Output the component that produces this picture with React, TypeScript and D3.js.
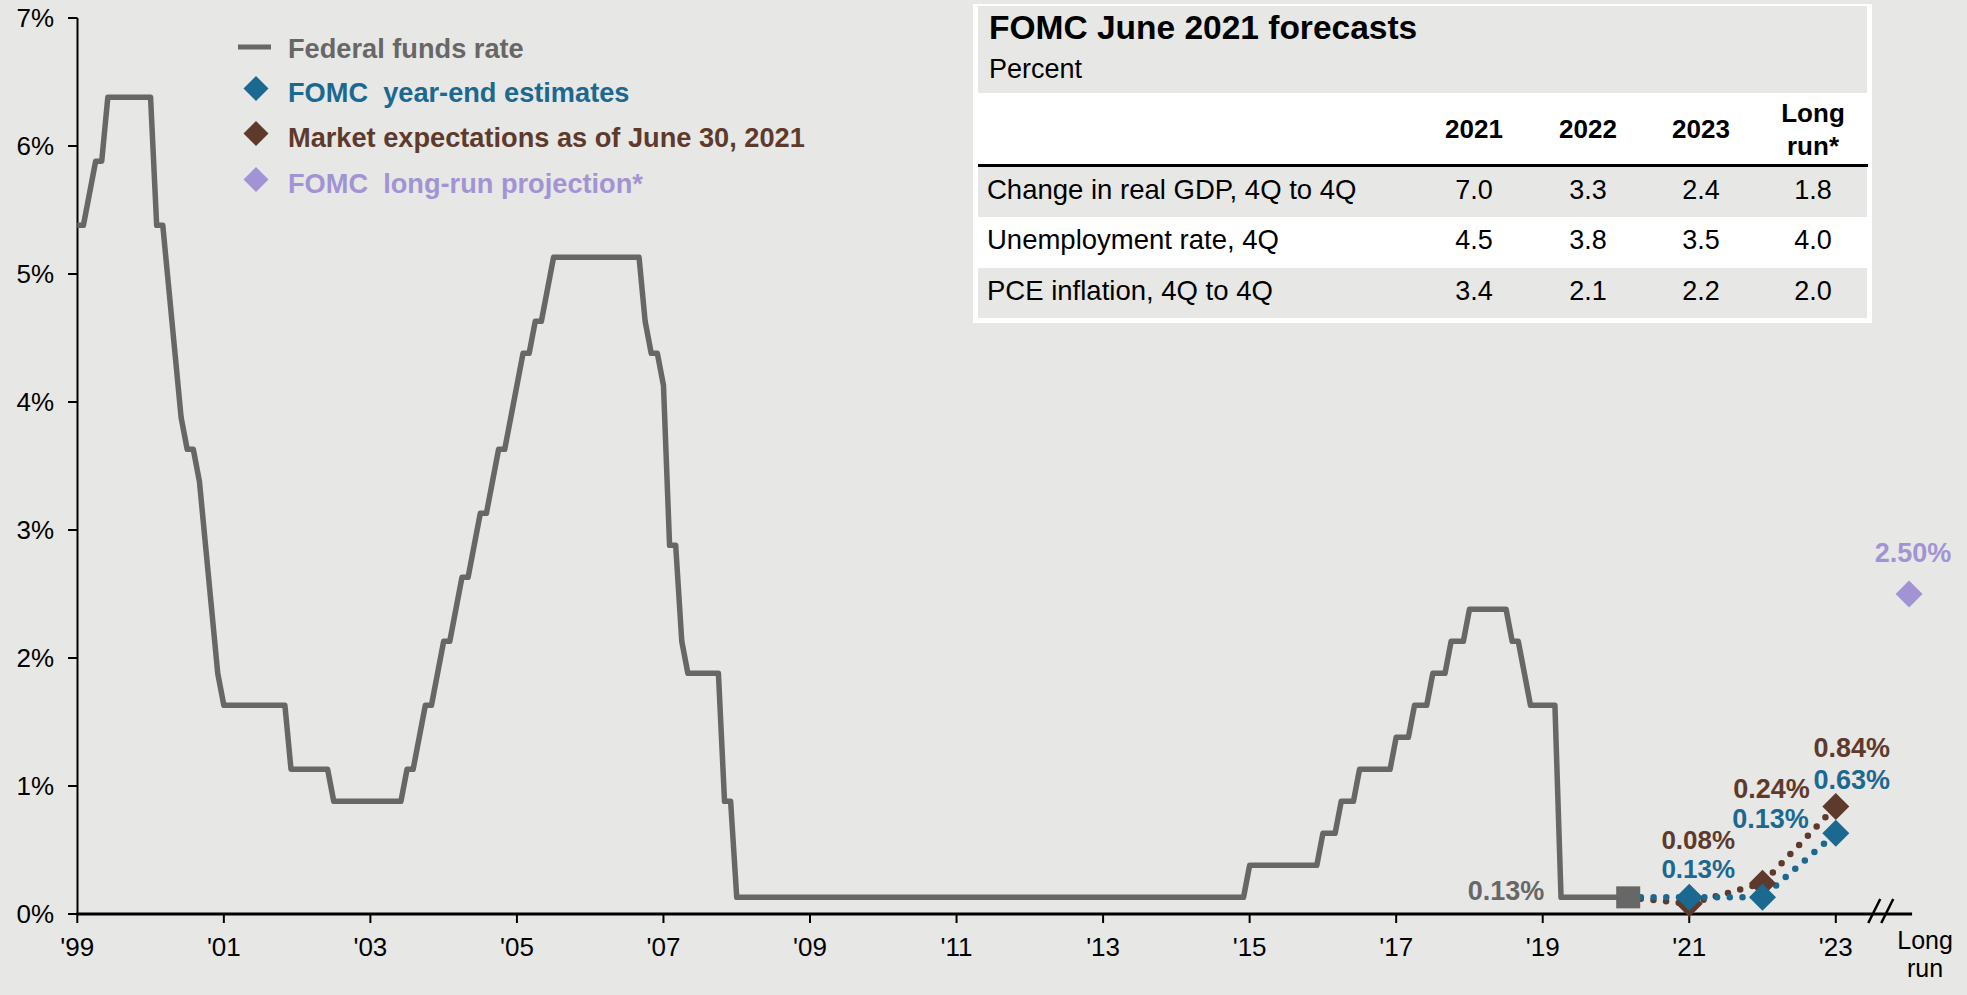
import React from 'react';
import * as d3 from 'd3';

const W = 1967;
const H = 995;

// Federal funds rate, monthly, first point = year-end '99 tick: [rate %, number of months]
const fedFundsRuns: [number, number][] = [
  [5.38, 2], [5.63, 1], [5.88, 2], [6.38, 8], [5.38, 2], [4.88, 1], [4.38, 1], [3.88, 1],
  [3.63, 2], [3.38, 1], [2.88, 1], [2.38, 1], [1.88, 1], [1.63, 11], [1.13, 7], [0.88, 12],
  [1.13, 2], [1.38, 1], [1.63, 2], [1.88, 1], [2.13, 2], [2.38, 1], [2.63, 2], [2.88, 1],
  [3.13, 2], [3.38, 1], [3.63, 2], [3.88, 1], [4.13, 1], [4.38, 2], [4.63, 2], [4.88, 1],
  [5.13, 15], [4.63, 1], [4.38, 2], [4.13, 1], [2.88, 2], [2.13, 1], [1.88, 6], [0.88, 2],
  [0.13, 84], [0.38, 12], [0.63, 3], [0.88, 3], [1.13, 6], [1.38, 3], [1.63, 3], [1.88, 3],
  [2.13, 3], [2.38, 7], [2.13, 2], [1.88, 1], [1.63, 5], [0.13, 12],
];

const xTickLabels = ["'99", "'01", "'03", "'05", "'07", "'09", "'11", "'13", "'15", "'17", "'19", "'21", "'23"];
const yTickValues = [0, 1, 2, 3, 4, 5, 6, 7];

const forecastMonths = [264, 276, 288]; // year-end 2021, 2022, 2023 (months after the '99 tick)
const fomcEstimates = [0.13, 0.13, 0.63];
const marketExpectations = [0.08, 0.24, 0.84];
const longRunMonth = 300;
const longRunProjection = 2.5;

const legendItems = [
  { label: 'Federal funds rate', kind: 'line', color: '#676767' },
  { label: 'FOMC  year-end estimates', kind: 'diamond', color: '#1b6890' },
  { label: 'Market expectations as of June 30, 2021', kind: 'diamond', color: '#5e3a2c' },
  { label: 'FOMC  long-run projection*', kind: 'diamond', color: '#a294d4' },
];

const tableTitle = 'FOMC June 2021 forecasts';
const tableSubtitle = 'Percent';
const tableColumns = ['2021', '2022', '2023', 'Long run*'];
const tableRowLabels = ['Change in real GDP, 4Q to 4Q', 'Unemployment rate, 4Q', 'PCE inflation, 4Q to 4Q'];
const gdpRow = [7.0, 3.3, 2.4, 1.8];
const unemploymentRow = [4.5, 3.8, 3.5, 4.0];
const pceRow = [3.4, 2.1, 2.2, 2.0];

const BG = '#e7e7e5';
const GRAY = '#676767';
const BLUE = '#1b6890';
const BROWN = '#5e3a2c';
const LAV = '#a294d4';
const FONT = '"Liberation Sans", Arial, sans-serif';

function diamondPath(cx: number, cy: number, r: number) {
  return `M${cx},${cy - r}L${cx + r},${cy}L${cx},${cy + r}L${cx - r},${cy}Z`;
}

export default function App() {
  const x = d3.scaleLinear().domain([0, 288]).range([77.3, 1835.8]);
  const y = d3.scaleLinear().domain([0, 7]).range([914, 18]);

  const monthly: { m: number; v: number }[] = [];
  fedFundsRuns.forEach(([v, n]) => {
    for (let i = 0; i < n; i++) monthly.push({ m: monthly.length, v });
  });
  const lastPoint = monthly[monthly.length - 1];

  const line = d3
    .line<{ m: number; v: number }>()
    .x((d) => x(d.m))
    .y((d) => y(d.v));

  const fomcPts = [{ m: lastPoint.m, v: lastPoint.v }, ...forecastMonths.map((m, i) => ({ m, v: fomcEstimates[i] }))];
  const mktPts = [{ m: lastPoint.m, v: lastPoint.v }, ...forecastMonths.map((m, i) => ({ m, v: marketExpectations[i] }))];

  const xTicks = xTickLabels.map((l, i) => ({ l, m: i * 24 }));
  const tableData = [gdpRow, unemploymentRow, pceRow];

  // table layout
  const tX0 = 973, tX1 = 1872;
  const colX = [1474, 1588, 1701, 1813];
  const rowTop = [167, 217, 268];
  const rowH = [50, 51, 50];
  const fmt = (v: number) => `${v.toFixed(2)}%`;

  const axisEnd = x(longRunMonth) + 3;
  const breakM = 294.3;

  return (
    <svg width={W} height={H} style={{ position: 'absolute', left: 0, top: 0 }} fontFamily={FONT}>
      <rect x={0} y={0} width={W} height={H} fill={BG} />

      {/* table */}
      <g>
        <rect x={tX0} y={4} width={tX1 - tX0} height={319} fill="#ffffff" />
        <rect x={978} y={6} width={889} height={87} fill={BG} />
        {rowTop.map((t, i) => (
          <rect key={i} x={978} y={t} width={889} height={rowH[i]} fill={i % 2 === 0 ? BG : '#ffffff'} />
        ))}
        <line x1={978} x2={1868} y1={165.5} y2={165.5} stroke="#000" strokeWidth={3} />
        <text x={989} y={39} fontSize={33.5} fontWeight="bold" fill="#000">{tableTitle}</text>
        <text x={989} y={78} fontSize={27} fill="#000">{tableSubtitle}</text>
        {tableColumns.map((c, i) =>
          c.includes(' ') ? (
            <text key={c} x={colX[i]} textAnchor="middle" fontSize={26} fontWeight="bold" fill="#000">
              <tspan x={colX[i]} y={122}>{c.split(' ')[0]}</tspan>
              <tspan x={colX[i]} y={155}>{c.split(' ')[1]}</tspan>
            </text>
          ) : (
            <text key={c} x={colX[i]} y={138} textAnchor="middle" fontSize={26} fontWeight="bold" fill="#000">{c}</text>
          )
        )}
        {tableRowLabels.map((r, i) => (
          <g key={r}>
            <text x={987} y={rowTop[i] + 32} fontSize={27.5} fill="#000">{r}</text>
            {tableData[i].map((v, j) => (
              <text key={j} x={colX[j]} y={rowTop[i] + 32} textAnchor="middle" fontSize={27} fill="#000">{v.toFixed(1)}</text>
            ))}
          </g>
        ))}
      </g>

      {/* axes */}
      <line x1={77.5} x2={77.5} y1={y(7)} y2={y(0)} stroke="#000" strokeWidth={2} />
      {yTickValues.map((v) => (
        <g key={v}>
          <line x1={68} x2={77.5} y1={y(v)} y2={y(v)} stroke="#000" strokeWidth={2} />
          <text x={54} y={y(v) + 9} textAnchor="end" fontSize={26} fill="#000">{`${v}%`}</text>
        </g>
      ))}
      <line x1={76.5} x2={axisEnd} y1={y(0)} y2={y(0)} stroke="#000" strokeWidth={3} />
      {xTicks.map((t) => (
        <g key={t.l}>
          <line x1={x(t.m)} x2={x(t.m)} y1={y(0)} y2={y(0) + 9} stroke="#000" strokeWidth={2} />
          <text x={x(t.m)} y={956} textAnchor="middle" fontSize={26} fill="#000">{t.l}</text>
        </g>
      ))}
      <text x={x(longRunMonth) + 16} textAnchor="middle" fontSize={25} fill="#000">
        <tspan x={x(longRunMonth) + 16} y={949}>Long</tspan>
        <tspan x={x(longRunMonth) + 16} y={977}>run</tspan>
      </text>
      {[0, 13].map((o) => (
        <line key={o} x1={x(breakM) - 6 + o} y1={y(0) + 9} x2={x(breakM) + 6 + o} y2={y(0) - 15} stroke="#000" strokeWidth={2.5} />
      ))}

      {/* fed funds */}
      <path d={line(monthly) || ''} fill="none" stroke={GRAY} strokeWidth={5.5} strokeLinejoin="round" />

      {/* dotted projections */}
      <path d={line(mktPts) || ''} fill="none" stroke={BROWN} strokeWidth={6.5} strokeDasharray="0 12.7" strokeLinecap="round" />
      <path d={line(fomcPts) || ''} fill="none" stroke={BLUE} strokeWidth={6.5} strokeDasharray="0 12.7" strokeLinecap="round" />

      <rect x={x(lastPoint.m) - 12} y={y(lastPoint.v) - 11} width={24} height={22} fill={GRAY} />

      {forecastMonths.map((m, i) => (
        <path key={'b' + m} d={diamondPath(x(m), y(marketExpectations[i]), 13.5)} fill={BROWN} />
      ))}
      {forecastMonths.map((m, i) => (
        <path key={'f' + m} d={diamondPath(x(m), y(fomcEstimates[i]), 13.5)} fill={BLUE} />
      ))}
      <path d={diamondPath(x(longRunMonth), y(longRunProjection), 13.5)} fill={LAV} />

      {/* value labels */}
      <g fontSize={27} fontWeight="bold">
        <text x={x(lastPoint.m) - 84} y={y(lastPoint.v) + 3} textAnchor="end" fill={GRAY}>{fmt(lastPoint.v)}</text>
        <text x={x(forecastMonths[0]) + 9} y={849} fontSize={26} textAnchor="middle" fill={BROWN}>{fmt(marketExpectations[0])}</text>
        <text x={x(forecastMonths[0]) + 9} y={878} fontSize={26} textAnchor="middle" fill={BLUE}>{fmt(fomcEstimates[0])}</text>
        <text x={x(forecastMonths[1]) + 9} y={798} textAnchor="middle" fill={BROWN}>{fmt(marketExpectations[1])}</text>
        <text x={x(forecastMonths[1]) + 8} y={828} textAnchor="middle" fill={BLUE}>{fmt(fomcEstimates[1])}</text>
        <text x={x(forecastMonths[2]) + 16} y={757} textAnchor="middle" fill={BROWN}>{fmt(marketExpectations[2])}</text>
        <text x={x(forecastMonths[2]) + 16} y={789} textAnchor="middle" fill={BLUE}>{fmt(fomcEstimates[2])}</text>
        <text x={x(longRunMonth) + 4} y={562} textAnchor="middle" fill={LAV}>{fmt(longRunProjection)}</text>
      </g>

      {/* legend */}
      {legendItems.map((it, i) => {
        const base = [58, 102, 147, 193][i];
        return (
          <g key={it.label}>
            {it.kind === 'line' ? (
              <line x1={238} x2={271} y1={base - 11} y2={base - 11} stroke={it.color} strokeWidth={5} />
            ) : (
              <path d={diamondPath(256, base - 13.5, 12.5)} fill={it.color} />
            )}
            <text x={288} y={base} fontSize={27.2} fontWeight="bold" fill={it.color} xmlSpace="preserve">{it.label}</text>
          </g>
        );
      })}
    </svg>
  );
}
